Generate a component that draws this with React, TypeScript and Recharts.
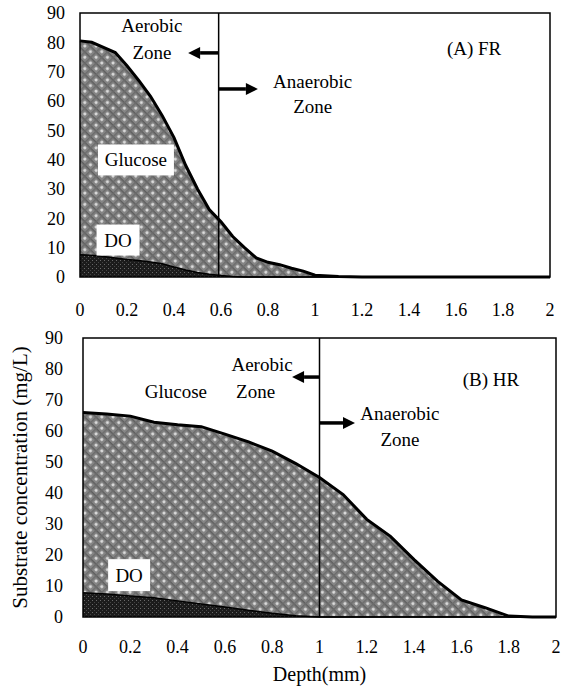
import React from 'react';
import { ComposedChart, Area, XAxis, YAxis, ReferenceLine, ReferenceArea, ReferenceDot } from 'recharts';

// ---------- data ----------
const depthA = [0, 0.05, 0.1, 0.15, 0.2, 0.25, 0.3, 0.35, 0.4, 0.45, 0.5, 0.55, 0.6, 0.65, 0.7, 0.75, 0.8, 0.85, 0.9, 0.95, 1.0, 1.1, 1.2, 1.3, 1.4, 1.5, 1.6, 1.7, 1.8, 1.9, 2.0];
const glucoseA = [80.5, 80, 78.3, 76.5, 72, 67, 61.6, 55, 47.5, 38, 30, 23, 18.8, 13.8, 10, 6.5, 5, 4.2, 3, 2, 0.6, 0.2, 0, 0, 0, 0, 0, 0, 0, 0, 0];
const doA = [7.6, 7.4, 7, 6.5, 6, 5.6, 5.1, 4.5, 3.4, 2.4, 1.5, 0.9, 0.5, 0.2, 0, 0, 0, 0, 0, 0, 0, 0, 0, 0, 0, 0, 0, 0, 0, 0, 0];

const depthB = [0, 0.1, 0.2, 0.3, 0.4, 0.5, 0.6, 0.7, 0.8, 0.9, 1.0, 1.1, 1.2, 1.3, 1.4, 1.5, 1.6, 1.7, 1.8, 1.9, 2.0];
const glucoseB = [66, 65.5, 64.8, 62.8, 62, 61.4, 59, 56.5, 53.5, 49.5, 45, 39.5, 31.5, 26, 18.5, 11.5, 5.5, 3, 0.3, 0, 0];
const doB = [7.8, 7.4, 6.8, 6.2, 5.2, 4.2, 3.2, 2.2, 1.2, 0.4, 0, 0, 0, 0, 0, 0, 0, 0, 0, 0, 0];

const xTicks = [0, 0.2, 0.4, 0.6, 0.8, 1, 1.2, 1.4, 1.6, 1.8, 2];
const yTicks = [0, 10, 20, 30, 40, 50, 60, 70, 80, 90];

const boundaryA = 0.59;
const boundaryB = 1;

// ---------- styling ----------
const FONT = "'Liberation Serif', 'DejaVu Serif', 'Times New Roman', serif";
const TICK = { fontSize: 18, fill: '#000', style: { fontFamily: FONT } };

const dataA = depthA.map((d, i) => ({ depth: d, glucose: glucoseA[i], dox: doA[i] }));
const dataB = depthB.map((d, i) => ({ depth: d, glucose: glucoseB[i], dox: doB[i] }));

const textShape = (text: string, box?: { w: number; h: number }, size = 19) => (p: any) => (
  <g>
    {box && <rect x={p.cx - box.w / 2} y={p.cy - box.h / 2} width={box.w} height={box.h} fill="#fff" />}
    <text x={p.cx} y={p.cy} textAnchor="middle" dominantBaseline="central" fontSize={size} style={{ fontFamily: FONT }} fill="#000">
      {text}
    </text>
  </g>
);

const arrowShape = (p: any) => {
  const { x1, y1, x2, y2 } = p;
  const dir = Math.sign(x2 - x1) || 1;
  const head = 12;
  return (
    <g>
      <line x1={x1} y1={y1} x2={x2 - dir * head} y2={y2} stroke="#000" strokeWidth={3.5} />
      <polygon points={`${x2},${y2} ${x2 - dir * head},${y2 - 6} ${x2 - dir * head},${y2 + 6}`} fill="#000" />
    </g>
  );
};

const Patterns = ({ id }: { id: string }) => (
  <defs>
    <pattern id={`glu-${id}`} width="8" height="8" patternUnits="userSpaceOnUse" patternTransform="rotate(45)">
      <rect width="8" height="8" fill="#858585" />
      <rect x="0" y="0" width="8" height="1.5" fill="#5e5e5e" />
      <rect x="0" y="0" width="1.5" height="8" fill="#6c6c6c" />
      <circle cx="4.5" cy="4.5" r="1.5" fill="#e0e0e0" />
    </pattern>
    <pattern id={`do-${id}`} width="4" height="4" patternUnits="userSpaceOnUse">
      <rect width="4" height="4" fill="#1c1c1c" />
      <rect x="0" y="0" width="1" height="1" fill="#6a6a6a" />
      <rect x="2" y="2" width="1" height="1" fill="#444" />
    </pattern>
  </defs>
);

export default function App() {
  return (
    <div style={{ position: 'absolute', left: 0, top: 0, width: 563, height: 691, background: '#fff', fontFamily: FONT }}>
      {/* Panel A */}
      <div style={{ position: 'absolute', left: 0, top: 0 }}>
        <ComposedChart width={563} height={320} data={dataA} margin={{ top: 13, right: 13, left: 0, bottom: 0 }} style={{ fontFamily: FONT }}>
          <Patterns id="a" />
          <XAxis dataKey="depth" type="number" domain={[0, 2]} ticks={xTicks} interval={0} tickLine={false} axisLine={false} tick={TICK} tickMargin={20} height={43} />
          <YAxis type="number" domain={[0, 90]} ticks={yTicks} interval={0} tickLine={false} axisLine={false} tick={TICK} tickMargin={9} width={80} />
          <Area type="linear" dataKey="glucose" stroke="#000" strokeWidth={3} fill="url(#glu-a)" fillOpacity={1} isAnimationActive={false} dot={false} activeDot={false} />
          <Area type="linear" dataKey="dox" stroke="#000" strokeWidth={1.5} fill="url(#do-a)" fillOpacity={1} isAnimationActive={false} dot={false} activeDot={false} />
          <ReferenceArea x1={0} x2={2} y1={0} y2={90} fill="none" stroke="#000" strokeWidth={1.5} />
          <ReferenceLine x={boundaryA} stroke="#000" strokeWidth={1.5} />
          <ReferenceLine segment={[{ x: boundaryA, y: 76.4 }, { x: 0.46, y: 76.4 }]} shape={arrowShape} ifOverflow="visible" />
          <ReferenceLine segment={[{ x: boundaryA, y: 64.1 }, { x: 0.757, y: 64.1 }]} shape={arrowShape} ifOverflow="visible" />
          <ReferenceDot x={0.306} y={85.6} shape={textShape('Aerobic')} ifOverflow="visible" />
          <ReferenceDot x={0.306} y={76.4} shape={textShape('Zone')} ifOverflow="visible" />
          <ReferenceDot x={0.99} y={66.5} shape={textShape('Anaerobic')} ifOverflow="visible" />
          <ReferenceDot x={0.99} y={58.2} shape={textShape('Zone')} ifOverflow="visible" />
          <ReferenceDot x={1.677} y={78} shape={textShape('(A) FR')} ifOverflow="visible" />
          <ReferenceDot x={0.238} y={39.9} shape={textShape('Glucose', { w: 76, h: 31 })} ifOverflow="visible" />
          <ReferenceDot x={0.162} y={12.6} shape={textShape('DO', { w: 43, h: 31 })} ifOverflow="visible" />
        </ComposedChart>
      </div>
      {/* Panel B */}
      <div style={{ position: 'absolute', left: 0, top: 320 }}>
        <ComposedChart width={563} height={371} data={dataB} margin={{ top: 18, right: 7, left: 0, bottom: 0 }} style={{ fontFamily: FONT }}>
          <Patterns id="b" />
          <XAxis
            dataKey="depth"
            type="number"
            domain={[0, 2]}
            ticks={xTicks}
            interval={0}
            tickLine={false}
            axisLine={false}
            tick={TICK}
            tickMargin={17}
            height={74}
            label={{ value: 'Depth(mm)', position: 'insideBottom', offset: 10, style: { fontSize: 20, fill: '#000', fontFamily: FONT } }}
          />
          <YAxis
            type="number"
            domain={[0, 90]}
            ticks={yTicks}
            interval={0}
            tickLine={false}
            axisLine={false}
            tick={TICK}
            tickMargin={14}
            width={83}
            label={{ value: 'Substrate concentration (mg/L)', angle: -90, position: 'insideLeft', offset: 20, style: { textAnchor: 'middle', fontSize: 21, fill: '#000', fontFamily: FONT } }}
          />
          <Area type="linear" dataKey="glucose" stroke="#000" strokeWidth={3} fill="url(#glu-b)" fillOpacity={1} isAnimationActive={false} dot={false} activeDot={false} />
          <Area type="linear" dataKey="dox" stroke="#000" strokeWidth={1.5} fill="url(#do-b)" fillOpacity={1} isAnimationActive={false} dot={false} activeDot={false} />
          <ReferenceArea x1={0} x2={2} y1={0} y2={90} fill="none" stroke="#000" strokeWidth={1.5} />
          <ReferenceLine x={boundaryB} stroke="#000" strokeWidth={1.5} />
          <ReferenceLine segment={[{ x: boundaryB, y: 77.4 }, { x: 0.884, y: 77.4 }]} shape={arrowShape} ifOverflow="visible" />
          <ReferenceLine segment={[{ x: boundaryB, y: 62.6 }, { x: 1.15, y: 62.6 }]} shape={arrowShape} ifOverflow="visible" />
          <ReferenceDot x={0.393} y={72.9} shape={textShape('Glucose')} ifOverflow="visible" />
          <ReferenceDot x={0.757} y={81.3} shape={textShape('Aerobic')} ifOverflow="visible" />
          <ReferenceDot x={0.73} y={72.9} shape={textShape('Zone')} ifOverflow="visible" />
          <ReferenceDot x={1.34} y={65.8} shape={textShape('Anaerobic')} ifOverflow="visible" />
          <ReferenceDot x={1.34} y={57.1} shape={textShape('Zone')} ifOverflow="visible" />
          <ReferenceDot x={1.725} y={76.5} shape={textShape('(B) HR')} ifOverflow="visible" />
          <ReferenceDot x={0.195} y={13.5} shape={textShape('DO', { w: 42, h: 32 })} ifOverflow="visible" />
        </ComposedChart>
      </div>
    </div>
  );
}
